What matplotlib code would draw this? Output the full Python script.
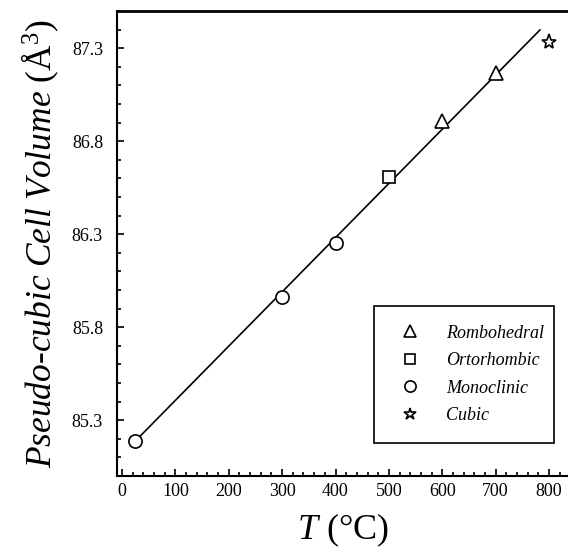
import matplotlib
matplotlib.use("Agg")
import matplotlib.pyplot as plt
from matplotlib.ticker import MultipleLocator, FixedLocator

plt.rcParams['font.family'] = ['Liberation Serif', 'DejaVu Serif']
plt.rcParams['mathtext.fontset'] = 'custom'
plt.rcParams['mathtext.rm'] = 'Liberation Serif'
plt.rcParams['mathtext.it'] = 'Liberation Serif:italic'

# Data
rombo_T = [600, 700]
rombo_V = [86.91, 87.167]
orto_T = [500]
orto_V = [86.61]
mono_T = [25, 300, 400]
mono_V = [85.188, 85.962, 86.253]
cubic_T = [800]
cubic_V = [87.333]
fit_T = [25, 783]
fit_V = [85.188, 87.398]

x_ticks = [0, 100, 200, 300, 400, 500, 600, 700, 800]
y_ticks = [85.3, 85.8, 86.3, 86.8, 87.3]

W, H = 568, 553
fig = plt.figure(figsize=(W / 100, H / 100), dpi=100)
left, right, top, bottom = 117, 575, 11, 476
ax = fig.add_axes([left / W, 1 - bottom / H, (right - left) / W, (bottom - top) / H])

px_per = (549 - 122) / 800.0
ax.set_xlim(-(122 - left) / px_per, (right - 122) / px_per)
ax.set_ylim(85.0, 87.5)

ax.plot(fit_T, fit_V, color='black', lw=1.2, zorder=2)
mk = dict(linestyle='none', mfc='white', mec='black', mew=1.2, ms=9.5, zorder=3)
ax.plot(rombo_T, rombo_V, marker='^', label='Rombohedral', **mk)
ax.plot(orto_T, orto_V, marker='s', label='Ortorhombic', **dict(mk, ms=8))
ax.plot(mono_T, mono_V, marker='o', label='Monoclinic', **mk)
ax.plot(cubic_T, cubic_V, marker='*', label='Cubic', **dict(mk, ms=11))

ax.xaxis.set_major_locator(FixedLocator(x_ticks))
ax.xaxis.set_minor_locator(MultipleLocator(20))
ax.yaxis.set_major_locator(FixedLocator(y_ticks))
ax.yaxis.set_minor_locator(FixedLocator([85.0 + 0.1 * i for i in range(26)]))
ax.set_xticklabels([str(t) for t in x_ticks])
ax.set_yticklabels([f"{t:.1f}" for t in y_ticks])

ax.tick_params(which='both', direction='in', top=False, right=False, labelsize=13, width=1.2)
ax.tick_params(which='major', length=5)
ax.tick_params(which='minor', length=3)
ax.tick_params(axis='x', which='major', pad=5)
ax.tick_params(axis='y', which='major', pad=10)

for s in ['left', 'bottom']:
    ax.spines[s].set_linewidth(1.5)
ax.spines['top'].set_linewidth(2)

ax.set_xlabel(r'$T$ (°C)', fontsize=26)
ax.xaxis.set_label_coords((343 - left) / (right - left), (bottom - 530) / (bottom - top))
ax.xaxis.label.set_va('center')
ax.set_ylabel(r'$\mathit{Pseudo}$-$\mathit{cubic\ Cell\ Volume}$ (Å$^3$)', fontsize=25.5, labelpad=8)

leg = ax.legend(loc='lower left', bbox_to_anchor=((374 - left) / (right - left), (bottom - 443) / (bottom - top),
                                                  (554 - 374) / (right - left), (443 - 303) / (bottom - top)),
                mode='expand', fancybox=False, framealpha=1, edgecolor='black',
                prop={'family': 'Liberation Serif', 'style': 'italic', 'size': 13},
                borderpad=1.05, labelspacing=0.58, handletextpad=1.1, borderaxespad=0,
                handlelength=1.84, markerscale=0.85)
leg.get_frame().set_linewidth(1.2)

fig.savefig('out.png', dpi=100)
